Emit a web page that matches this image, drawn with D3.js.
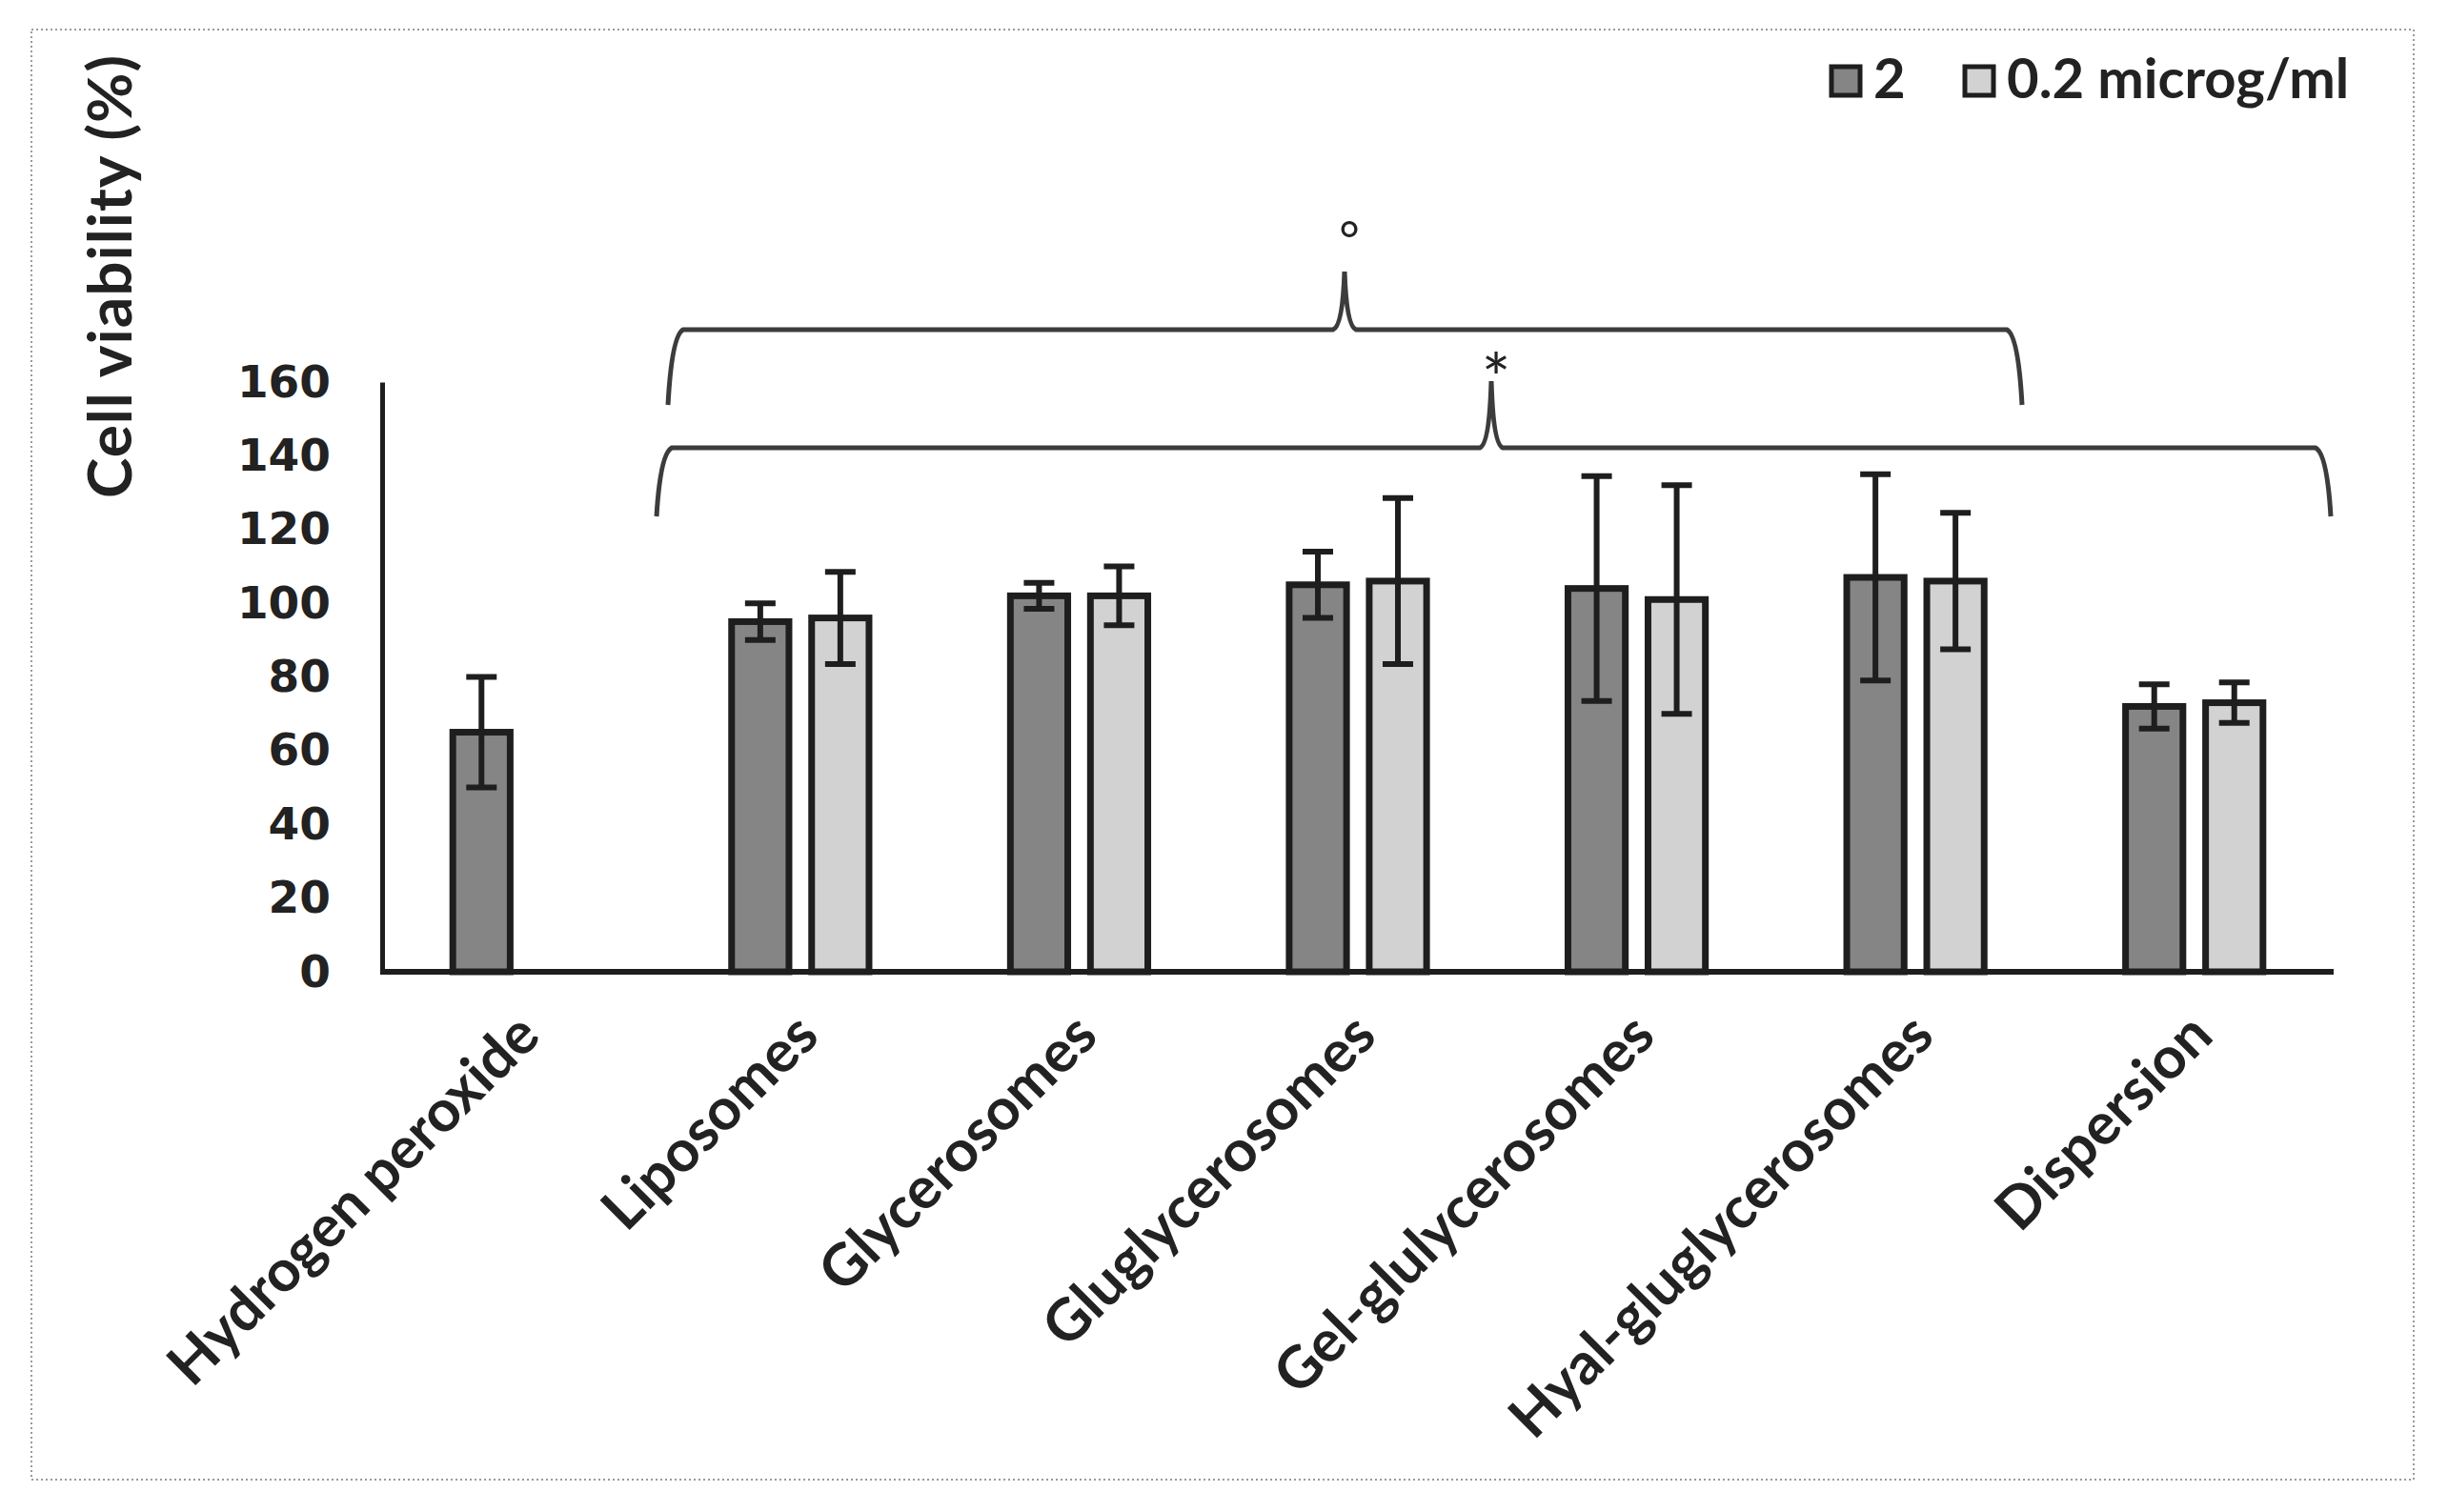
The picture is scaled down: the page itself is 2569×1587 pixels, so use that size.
<!DOCTYPE html>
<html>
<head>
<meta charset="utf-8">
<script src="https://cdn.jsdelivr.net/npm/d3@7"></script>
<style>
  body { margin: 0; background: #fff; }
  text { fill: #222; }
</style>
</head>
<body>
<div id="chart"></div>
<script>
// Chart data
var categories = ["Hydrogen peroxide", "Liposomes", "Glycerosomes", "Gluglycerosomes",
                  "Gel-glulycerosomes", "Hyal-gluglycerosomes", "Dispersion"];
var series = ["2", "0.2 microg/ml"];
var highDose = [65, 95, 102, 105, 104, 107, 72];
var highErr = [15, 5, 3.5, 9, 30.5, 28, 6];
var lowDose = [null, 96, 102, 106, 101, 106, 73];
var lowErr = [null, 12.5, 8, 22.5, 31, 18.5, 5.5];
var yTicks = [0, 20, 40, 60, 80, 100, 120, 140, 160];

var width = 2569, height = 1587;
var fills = ["#858585", "#d2d2d2"];

var svg = d3.select("#chart").append("svg")
  .attr("width", width)
  .attr("height", height);

// dotted frame
svg.append("rect")
  .attr("x", 33).attr("y", 31)
  .attr("width", 2500).attr("height", 1522)
  .attr("fill", "none")
  .attr("stroke", "#9a9a9a")
  .attr("stroke-width", 2)
  .attr("stroke-dasharray", "2,3");

// scales
var x0 = d3.scaleBand().domain(categories).range([401, 2449]);
var x1 = d3.scaleBand().domain(series)
  .range([x0.bandwidth() / 2 - 84, x0.bandwidth() / 2 + 84])
  .paddingInner(0.2).paddingOuter(0.1);
var y = d3.scaleLinear().domain([0, 160]).range([1020, 401]);

// build rows
var rows = categories.map(function(c, i) {
  return [
    { cat: c, s: series[0], v: highDose[i], e: highErr[i] },
    { cat: c, s: series[1], v: lowDose[i], e: lowErr[i] }
  ].filter(function(d) { return d.v != null; });
});

var groups = svg.selectAll("g.grp").data(rows).enter()
  .append("g")
  .attr("class", "grp")
  .attr("transform", function(d, i) { return "translate(" + x0(categories[i]) + ",0)"; });

var sw = 7;
groups.selectAll("rect").data(function(d) { return d; }).enter()
  .append("rect")
  .attr("x", function(d) { return x1(d.s) + sw / 2; })
  .attr("width", x1.bandwidth() - sw)
  .attr("y", function(d) { return y(d.v); })
  .attr("height", function(d) { return y(0) - y(d.v); })
  .attr("fill", function(d) { return fills[series.indexOf(d.s)]; })
  .attr("stroke", "#1e1e1e")
  .attr("stroke-width", sw);

// error bars
var eb = groups.selectAll("g.err").data(function(d) { return d; }).enter()
  .append("g").attr("class", "err")
  .attr("stroke", "#1e1e1e").attr("stroke-width", 6);
var cx = function(d) { return x1(d.s) + x1.bandwidth() / 2; };
eb.append("line")
  .attr("x1", cx).attr("x2", cx)
  .attr("y1", function(d) { return y(d.v + d.e); })
  .attr("y2", function(d) { return y(d.v - d.e); });
eb.append("line")
  .attr("x1", function(d) { return cx(d) - 16; })
  .attr("x2", function(d) { return cx(d) + 16; })
  .attr("y1", function(d) { return y(d.v + d.e); })
  .attr("y2", function(d) { return y(d.v + d.e); });
eb.append("line")
  .attr("x1", function(d) { return cx(d) - 16; })
  .attr("x2", function(d) { return cx(d) + 16; })
  .attr("y1", function(d) { return y(d.v - d.e); })
  .attr("y2", function(d) { return y(d.v - d.e); });

// axes
var yAxis = svg.append("g")
  .attr("transform", "translate(401,0)")
  .call(d3.axisLeft(y).tickValues(yTicks).tickSize(0).tickSizeOuter(0).tickPadding(54));
yAxis.select(".domain").attr("stroke", "#1e1e1e").attr("stroke-width", 5);
yAxis.selectAll("text")
  .attr("font-family", "DejaVu Sans")
  .attr("font-weight", "bold")
  .attr("font-size", 47)
  .attr("fill", "#222");

svg.append("line")
  .attr("x1", 399).attr("x2", 2449)
  .attr("y1", y(0)).attr("y2", y(0))
  .attr("stroke", "#1e1e1e").attr("stroke-width", 6);

// category labels
svg.selectAll("text.cat").data(categories).enter()
  .append("text")
  .attr("class", "cat")
  .attr("text-anchor", "end")
  .attr("font-family", "Lato")
  .attr("font-weight", "bold")
  .attr("font-size", 61)
  .attr("transform", function(d) {
    return "translate(" + (x0(d) + x0.bandwidth() / 2 + 22) + ",1090) rotate(-45)";
  })
  .text(function(d) { return d; });

// y title
svg.append("text")
  .attr("text-anchor", "middle")
  .attr("font-family", "Lato")
  .attr("font-weight", "bold")
  .attr("font-size", 64)
  .attr("letter-spacing", 1)
  .attr("transform", "translate(138,290) rotate(-90)")
  .text("Cell viability (%)");

// legend
var legX = [1920, 2060];
var leg = svg.selectAll("g.leg").data(series).enter()
  .append("g").attr("class", "leg")
  .attr("transform", function(d, i) { return "translate(" + legX[i] + ",68)"; });
leg.append("rect")
  .attr("width", 30).attr("height", 30)
  .attr("x", 2).attr("y", 2)
  .attr("fill", function(d, i) { return fills[i]; })
  .attr("stroke", "#1e1e1e").attr("stroke-width", 5);
leg.append("text")
  .attr("x", 46).attr("y", 35)
  .attr("font-family", "Lato")
  .attr("font-weight", "bold")
  .attr("font-size", 58)
  .text(function(d) { return d; });

// significance braces
function brace(xa, xb, xm, yH, yTip, yPeak) {
  var p = d3.path();
  p.moveTo(xa, yTip);
  p.quadraticCurveTo(xa + 4, yH + 6, xa + 16, yH);
  p.lineTo(xm - 12, yH);
  p.quadraticCurveTo(xm - 2, yH - 4, xm, yPeak);
  p.quadraticCurveTo(xm + 2, yH - 4, xm + 12, yH);
  p.lineTo(xb - 16, yH);
  p.quadraticCurveTo(xb - 4, yH + 6, xb, yTip);
  return p.toString();
}
var braces = [
  { xa: 701, xb: 2122, xm: 1411, yH: 346, yTip: 425, yPeak: 285, mark: "°", size: 52, mx: 1416, my: 270 },
  { xa: 689, xb: 2446, xm: 1565, yH: 470, yTip: 542, yPeak: 400, mark: "*", size: 72, mx: 1570, my: 423 }
];
svg.selectAll("path.brace").data(braces).enter()
  .append("path")
  .attr("class", "brace")
  .attr("d", function(b) { return brace(b.xa, b.xb, b.xm, b.yH, b.yTip, b.yPeak); })
  .attr("fill", "none")
  .attr("stroke", "#3c3c3c")
  .attr("stroke-width", 5);
svg.selectAll("text.mark").data(braces).enter()
  .append("text")
  .attr("class", "mark")
  .attr("text-anchor", "middle")
  .attr("font-family", "Lato")
  .attr("font-size", function(b) { return b.size; })
  .attr("x", function(b) { return b.mx; })
  .attr("y", function(b) { return b.my; })
  .text(function(b) { return b.mark; });
</script>
</body>
</html>
